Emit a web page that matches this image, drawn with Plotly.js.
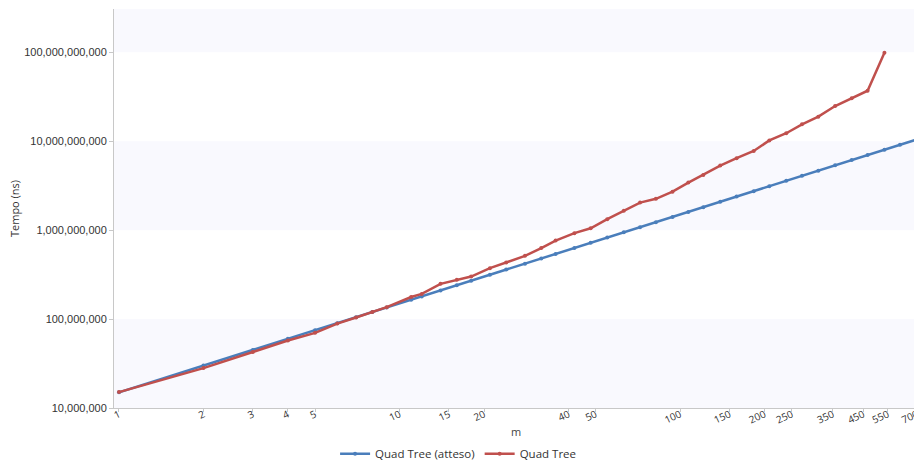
<!DOCTYPE html>
<html>
<head>
<meta charset="utf-8">
<script src="https://cdn.plot.ly/plotly-3.0.1.min.js"></script>
<style>
  html, body { margin: 0; padding: 0; overflow: hidden; background: #fff; }
  #chart { width: 918px; height: 464px; }
</style>
</head>
<body>
<div id="chart"></div>
<script>
// m values (x axis, log scale)
const mExpected = [1,2,3,4,5,6,7,8,9,11,12,14,16,18,21,24,28,32,36,42,48,55,63,72,82,94,107,121,139,159,183,208,239,272,311,357,409,466,535,608,700];
const tExpected = [15000000,30000000,45000000,60000000,75000000,90000000,105000000,120000000,135000000,165000000,180000000,210000000,240000000,270000000,315000000,360000000,420000000,480000000,540000000,630000000,720000000,825000000,945000000,1080000000,1230000000,1410000000,1605000000,1815000000,2085000000,2385000000,2745000000,3120000000,3585000000,4080000000,4665000000,5355000000,6135000000,6990000000,8025000000,9120000000,10500000000];

const mMeasured = [1,2,3,4,5,6,7,8,9,11,12,14,16,18,21,24,28,32,36,42,48,55,63,72,82,94,107,121,139,159,183,208,239,272,311,357,409,466,535];
const tMeasured = [15100000,28100000,42600000,57500000,70000000,89000000,104000000,120000000,136000000,177000000,192000000,249000000,276000000,301000000,374000000,432000000,514000000,628000000,764000000,925000000,1050000000,1330000000,1650000000,2040000000,2250000000,2710000000,3430000000,4180000000,5320000000,6440000000,7780000000,10200000000,12300000000,15500000000,18900000000,24900000000,30400000000,37000000000,99000000000];

const xTickVals = [1,2,3,4,5,10,15,20,40,50,100,150,200,250,350,450,550,700];
const xTickText = ["1","2","3","4","5","10","15","20","40","50","100","150","200","250","350","450","550","700"];
const yTickVals = [10000000,100000000,1000000000,10000000000,100000000000];
const yTickText = ["10,000,000","100,000,000","1,000,000,000","10,000,000,000","100,000,000,000"];

const seriesNames = ["Quad Tree (atteso)", "Quad Tree"];
const colors = ["#4a7ebb", "#c0504d"];

const yTopLog = 11.487;
const bandStarts = [1e7, 1e9, 1e11];
const bandEnds = [1e8, 1e10, Math.pow(10, yTopLog)];

const traces = [
  {x: mExpected, y: tExpected, name: seriesNames[0]},
  {x: mMeasured, y: tMeasured, name: seriesNames[1]}
].map((t, i) => Object.assign(t, {
  type: 'scatter', mode: 'lines+markers',
  line: {color: colors[i], width: 2.5},
  marker: {color: colors[i], size: 4},
  cliponaxis: true
}));

const shapes = bandStarts.map((s, i) => ({
  type: 'rect', xref: 'paper', yref: 'y', x0: 0, x1: 1, y0: s, y1: bandEnds[i],
  fillcolor: '#f9f9fe', line: {width: 0}, layer: 'below'
}));

const layout = {
  width: 918, height: 464,
  margin: {l: 114, r: 0, t: 9, b: 56, autoexpand: false},
  paper_bgcolor: '#fff', plot_bgcolor: '#fff',
  showlegend: true,
  legend: {orientation: 'h', xref: 'container', yref: 'container', x: 0.499, xanchor: 'center', y: 0.022, yanchor: 'middle',
           font: {family: 'Open Sans, sans-serif', size: 11.5, color: '#333'}, itemwidth: 30, bgcolor: 'rgba(0,0,0,0)'},
  xaxis: {
    type: 'log', range: [-0.0178, 2.848],
    tickmode: 'array', tickvals: xTickVals, ticktext: xTickText, tickangle: -25,
    ticklabeloverflow: 'allow', ticklabelstandoff: -7,
    tickfont: {family: 'Open Sans, sans-serif', size: 10, color: '#333'},
    showgrid: false, zeroline: false,
    showline: true, linecolor: '#c8c8c8', linewidth: 1,
    ticks: 'outside', ticklen: 3, tickcolor: '#c8c8c8',
    title: {text: 'm', font: {family: 'Open Sans, sans-serif', size: 11, color: '#444'}, standoff: 9}
  },
  yaxis: {
    type: 'log', range: [7, yTopLog],
    tickmode: 'array', tickvals: yTickVals, ticktext: yTickText,
    tickfont: {family: 'Liberation Sans, Arial, sans-serif', size: 11, color: '#333'},
    showgrid: false, zeroline: false,
    showline: true, linecolor: '#c8c8c8', linewidth: 1,
    ticks: 'outside', ticklen: 4, tickcolor: '#c8c8c8',
    title: {text: 'Tempo (ns)', font: {family: 'Open Sans, sans-serif', size: 11, color: '#333'}, standoff: 2}
  },
  shapes: shapes
};

Plotly.newPlot('chart', traces, layout, {staticPlot: true, displayModeBar: false});
</script>
</body>
</html>
